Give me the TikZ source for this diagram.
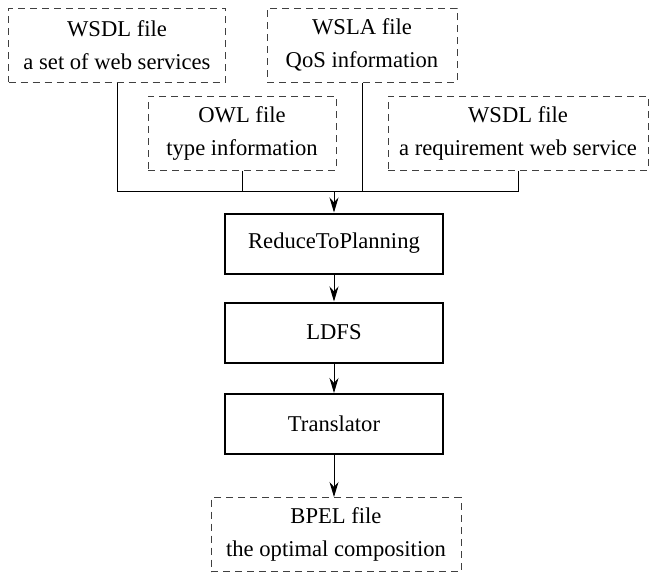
\documentclass[tikz,border=0pt]{standalone}
\usepackage{fontspec}
\setmainfont{Liberation Serif}
\usetikzlibrary{arrows.meta}
\tikzset{
  infile/.style={draw=black!75, dash pattern=on 3.5pt off 2.5pt, line width=0.5pt,
    minimum height=37pt, align=center, font=\fontsize{11.3}{16.5}\selectfont},
  stage/.style={draw, line width=1pt, minimum width=109pt, minimum height=30pt,
    font=\fontsize{11.3}{13}\selectfont},
  feed/.style={line width=0.5pt},
  flow/.style={line width=0.5pt, -{Stealth[length=7.5pt,width=4.5pt]}},
}
\begin{document}
\begin{tikzpicture}[x=0.5pt, y=-0.5pt, line join=miter]
\useasboundingbox (0,0) rectangle (649,574);
% input files
\node[infile, minimum width=108.5pt] (wsdlA) at (117,45)  {WSDL file\\a set of web services};
\node[infile, minimum width=95pt]    (wsla)  at (362,45)  {WSLA file\\QoS information};
\node[infile, minimum width=94pt]    (owl)   at (242,133) {OWL file\\type information};
\node[infile, minimum width=130pt]   (wsdlB) at (518,133) {WSDL file\\a requirement web service};
% processing stages
\node[stage] (rtp)   at (334,243.5) {ReduceToPlanning};
\node[stage] (ldfs)  at (334,332.5) {LDFS};
\node[stage] (trans) at (334,424)   {Translator};
% output file
\node[infile, minimum width=125pt] (bpel) at (336,534.5) {BPEL file\\the optimal composition};
% merging the inputs
\coordinate (merge) at (334,191);
\draw[feed] (wsdlA.south) |- (merge);
\draw[feed] (owl.south)   |- (merge);
\draw[feed] (wsla.south)  |- (merge);
\draw[feed] (wsdlB.south) |- (merge);
% flow
\draw[flow] (merge) -- (rtp.north);
\draw[flow] (rtp)   -- (ldfs);
\draw[flow] (ldfs)  -- (trans);
\draw[flow] (trans.south) -- (trans.south |- bpel.north);
\end{tikzpicture}
\end{document}
